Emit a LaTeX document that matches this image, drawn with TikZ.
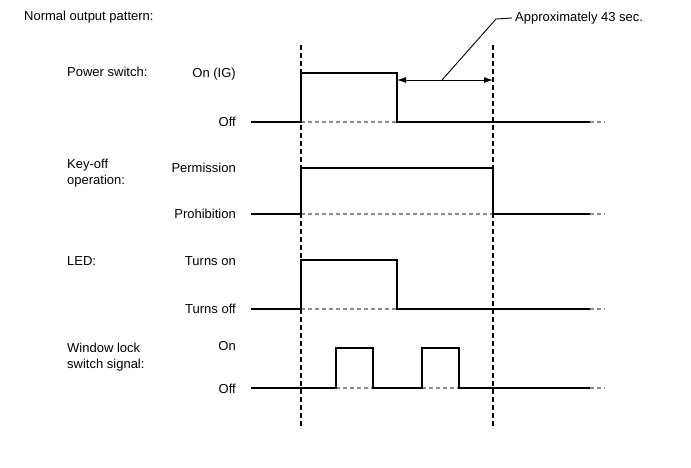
\documentclass[tikz,border=0pt]{standalone}
\usepackage{fontspec}
\setmainfont{Liberation Sans}
\usetikzlibrary{arrows.meta}
\begin{document}
\begin{tikzpicture}[x=1pt,y=-1pt,
  sig/.style={line width=1.5pt, black, line join=miter},
  basel/.style={black!45, line width=1.2pt, dash pattern=on 4pt off 3pt},
  tail/.style={black!45, line width=1.2pt, dash pattern=on 4pt off 3pt},
  vdash/.style={black, line width=1.1pt, dash pattern=on 5pt off 3pt},
  txt/.style={font=\fontsize{13}{15.5}\selectfont, inner sep=0pt, text=black},
  lvl/.style={txt, anchor=east},
  nm/.style={txt, anchor=west, align=left},
  dim/.style={line width=0.9pt, black, {Latex[length=9pt,width=6pt]}-{Latex[length=9pt,width=6pt]}},
  lead/.style={line width=0.9pt, black}]
\useasboundingbox (0,0) rectangle (691,467);
% vertical reference lines
\coordinate (t1top) at (301,45);
\coordinate (t1bot) at (301,426);
\coordinate (t2top) at (493,45);
\coordinate (t2bot) at (493,426);
\draw[vdash] (t1top) -- (t1bot);
\draw[vdash] (t2top) -- (t2bot);
% title
\node[txt, anchor=west] (title) at (24,17) {Normal output pattern:};
% Power switch
\node[nm] (pwr) at (67,72) {Power switch:};
\node[lvl] (pon) at (236,74) {On (IG)};
\node[lvl] (poff) at (236,122) {Off};
\draw[basel] (301,122) -- (397,122);
\draw[sig] (251,122) -- (301,122) -- (301,73) -- (397,73) -- (397,122) -- (590,122);
\draw[tail] (590,122) -- (605,122);
% dimension
\coordinate (da) at (397,80);
\coordinate (db) at (493,80);
\draw[dim] (da) -- (db);
\coordinate (l1) at (442,80);
\coordinate (l2) at (496,19);
\node[txt, anchor=west] (approx) at (515,18) {Approximately 43 sec.};
\draw[lead] (l1) -- (l2) -- ([xshift=-3pt]approx.west);
% Key-off
\node[nm] (key) at (67,173) {Key-off\\operation:};
\node[lvl] (perm) at (236,168) {Permission};
\node[lvl] (proh) at (236,214) {Prohibition};
\draw[basel] (301,214) -- (493,214);
\draw[sig] (251,214) -- (301,214) -- (301,168) -- (493,168) -- (493,214) -- (590,214);
\draw[tail] (590,214) -- (605,214);
% LED
\node[nm] (led) at (67,261) {LED:};
\node[lvl] (ton) at (236,261) {Turns on};
\node[lvl] (toff) at (236,309) {Turns off};
\draw[basel] (301,309) -- (397,309);
\draw[sig] (251,309) -- (301,309) -- (301,260) -- (397,260) -- (397,309) -- (590,309);
\draw[tail] (590,309) -- (605,309);
% Window lock
\node[nm] (win) at (67,357) {Window lock\\switch signal:};
\node[lvl] (won) at (236,346) {On};
\node[lvl] (woff) at (236,389) {Off};
\draw[basel] (336,388) -- (373,388);
\draw[basel] (422,388) -- (459,388);
\draw[sig] (251,388) -- (336,388) -- (336,348) -- (373,348) -- (373,388) -- (422,388) -- (422,348) -- (459,348) -- (459,388) -- (590,388);
\draw[tail] (590,388) -- (605,388);
\end{tikzpicture}
\end{document}
